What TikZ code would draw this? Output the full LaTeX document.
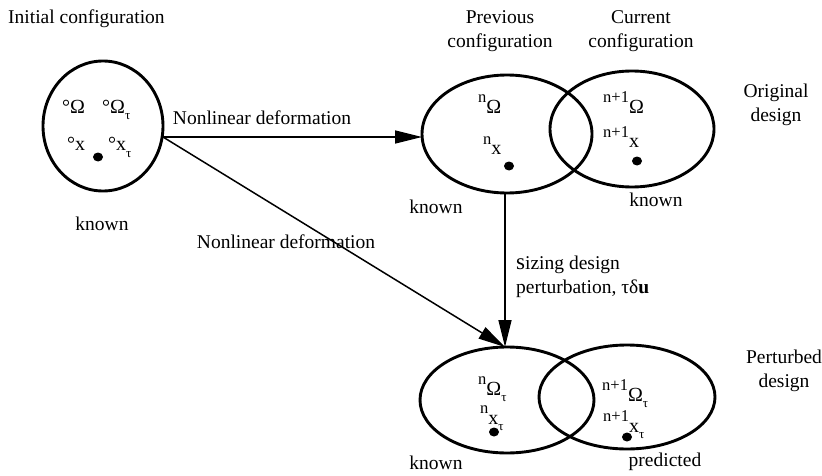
\documentclass[tikz,border=0pt]{standalone}
\usepackage{fontspec}
\setmainfont{Liberation Serif}
\usetikzlibrary{arrows.meta,shapes.geometric}
\newcommand\lsup[1]{\raisebox{10.5pt}{\fontsize{16.5}{16.5}\selectfont #1}}
\newcommand\tausub{\raisebox{-0.7ex}{\fontsize{13}{13}\selectfont τ}}
\begin{document}
\begin{tikzpicture}[x=1pt,y=1pt,
  every node/.style={font=\fontsize{19.5}{23.5}\selectfont, inner sep=0pt},
  region/.style={draw, line width=2.9pt},
  flow/.style={draw, line width=1.5pt, -{Triangle[length=27pt,width=13pt]}},
  sym/.style={font=\fontsize{20}{22}\selectfont, anchor=base west},
  pt/.style={fill, ellipse, minimum width=10pt, minimum height=9pt, inner sep=0pt}]
\useasboundingbox (0,0) rectangle (822,475);

% regions (ellipses)
\draw[region] (103,349) ellipse [x radius=60, y radius=65];
\draw[region] (507,341) ellipse [x radius=85, y radius=59];
\draw[region] (632,346) ellipse [x radius=82, y radius=58];
\draw[region] (507,75) ellipse [x radius=87, y radius=53];
\draw[region] (627,78) ellipse [x radius=88, y radius=52];

% anchor points for the connectors
\coordinate (iniR) at (163,338);
\coordinate (prevL) at (422,338);
\coordinate (prevB) at (505,282);
\coordinate (pertT) at (505,128);

\draw[flow] (iniR) -- (prevL);
\draw[flow] (iniR) -- (pertT);
\draw[flow] (prevB) -- (pertT);

% headings and captions
\node[anchor=west] (tinit) at (8,456) {Initial configuration};
\node[align=center] (tprev) at (500,444) {Previous\\configuration};
\node[align=center] (tcur) at (641,444) {Current\\configuration};
\node[align=center] (torig) at (776,370) {Original\\design};
\node[align=center] (tpert) at (784,104) {Perturbed\\design};
\node (k1) at (102,251) {known};
\node (k2) at (436,268) {known};
\node (k3) at (656,275) {known};
\node (k4) at (436,12) {known};
\node (k5) at (665,13) {predicted};
\node (nl1) at (262,357) {Nonlinear deformation};
\node (nl2) at (286,233) {Nonlinear deformation};
\node[align=left, anchor=west] (sz) at (516,198)
  {{\fontsize{23}{23}\selectfont s}izing design\\perturbation, τδ\textbf{u}};

% initial configuration symbols
\node[sym] (a1) at (62,362) {°Ω};
\node[sym] (a2) at (102,362) {°Ω\tausub};
\node[sym] (a3) at (67,324) {°x};
\node[sym] (a4) at (108,324) {°x\tausub};
\node[pt] (d0) at (98,318) {};

% previous configuration
\node[sym] (b1) at (478,362) {\lsup{n}Ω};
\node[sym] (b2) at (483,320) {\lsup{n}x};
\node[pt] (d1) at (509,309) {};

% current configuration
\node[sym] (c1) at (603,362) {\lsup{n+1}Ω};
\node[sym] (c2) at (603,327) {\lsup{n+1}x};
\node[pt] (d2) at (637,314) {};

% perturbed, previous step
\node[sym] (e1) at (478,80) {\lsup{n}Ω\tausub};
\node[sym] (e2) at (480,51) {\lsup{n}x\tausub};
\node[pt] (d3) at (494,43) {};

% perturbed, current step (predicted)
\node[sym] (f1) at (602,74) {\lsup{n+1}Ω\tausub};
\node[sym] (f2) at (603,43) {\lsup{n+1}x\tausub};
\node[pt] (d4) at (627,38) {};
\end{tikzpicture}
\end{document}
